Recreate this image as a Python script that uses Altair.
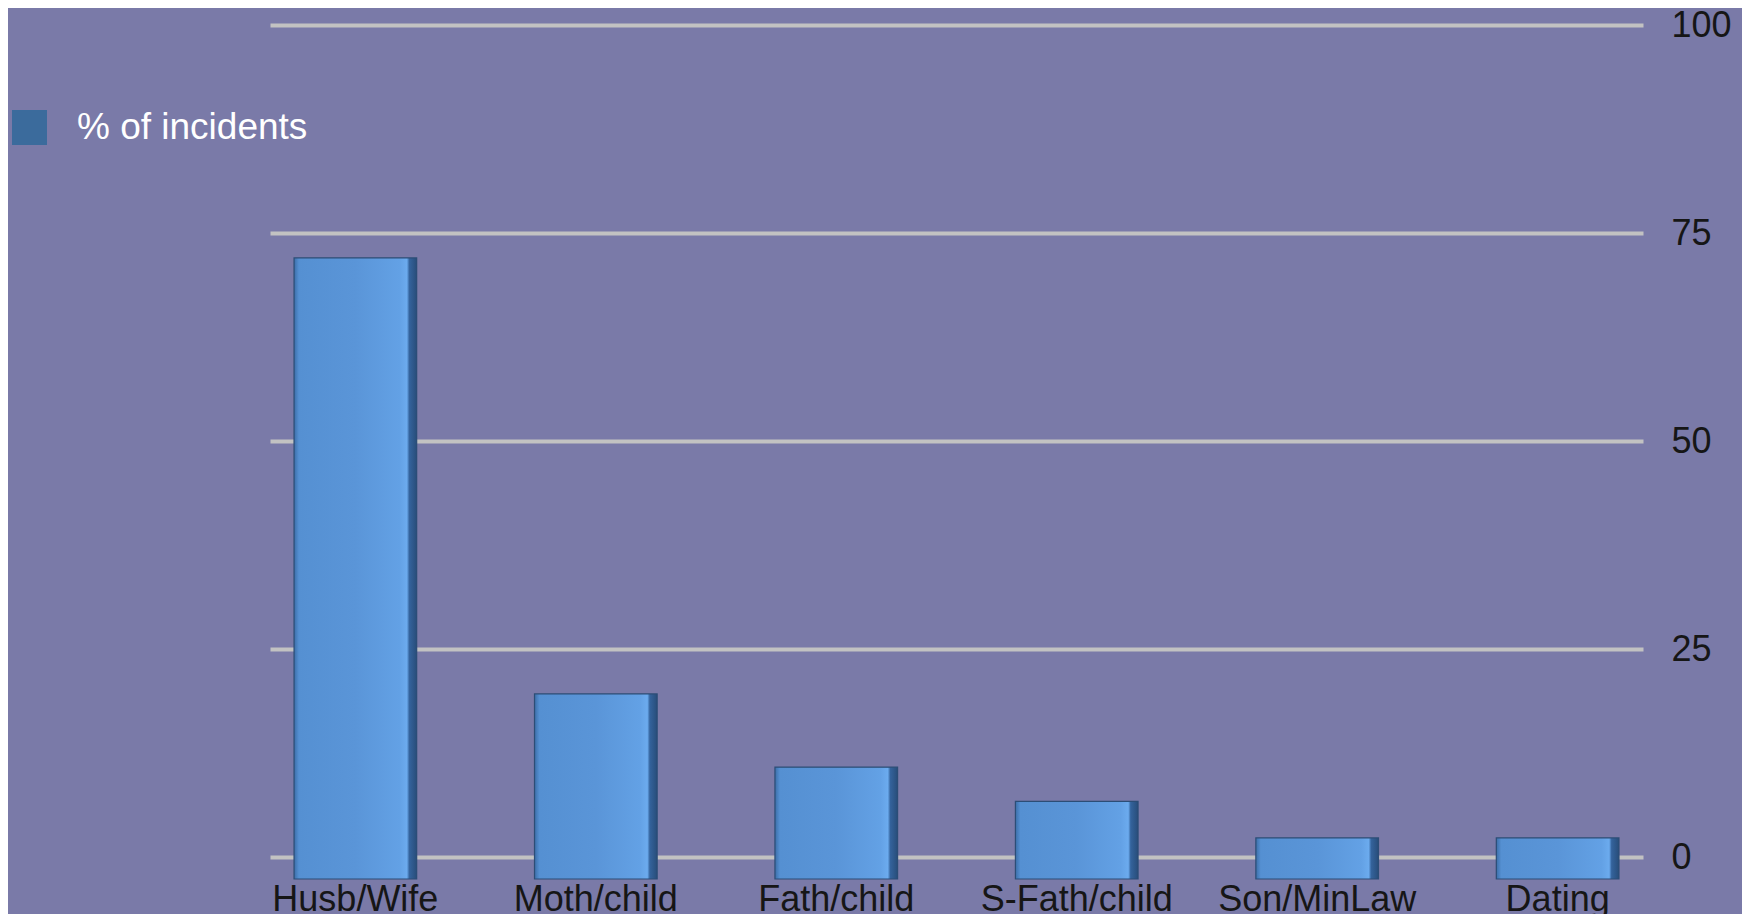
import altair as alt
import pandas as pd

categories = ["Husb/Wife", "Moth/child", "Fath/child", "S-Fath/child", "Son/MinLaw", "Dating"]
values = [72, 19.6, 10.8, 6.7, 2.3, 2.3]
series_name = "% of incidents"
y_ticks = [0, 25, 50, 75, 100]
y_floor = -2.64  # bars drawn slightly below the zero line (3D look)

df = pd.DataFrame({"cat": categories, "val": values, "series": [series_name] * len(categories)})

FONT = "Liberation Sans"
BG = "#7a7aa8"

x_enc = alt.X(
    "cat:N",
    sort=categories,
    scale=alt.Scale(paddingInner=0.49, paddingOuter=0.1),
    axis=alt.Axis(
        title=None, labelAngle=0, labelFontSize=36, labelColor="#161616", labelFont=FONT,
        domain=False, ticks=False, labelPadding=3, labelLimit=400,
    ),
)
y_enc = alt.Y(
    "val:Q",
    scale=alt.Scale(domain=[y_floor, 100], nice=False, zero=False),
    axis=alt.Axis(
        title=None, orient="right", values=y_ticks, grid=True, gridColor="#c2c2c2",
        gridWidth=4, domain=False, ticks=False, labelAlign="left", labelPadding=28,
        labelFontSize=36, labelColor="#161616", labelFont=FONT, labelBaseline="middle",
    ),
)

base = alt.Chart(df)

legend_bars = base.mark_bar().encode(
    x=x_enc,
    y=y_enc,
    y2=alt.datum(y_floor),
    color=alt.Color(
        "series:N",
        scale=alt.Scale(range=["#3b6b9c"]),
        legend=alt.Legend(
            title=None, orient="none", legendX=-259, legendY=84, symbolType="square",
            symbolSize=1225, symbolStrokeWidth=0, symbolOpacity=1, labelFontSize=37,
            labelColor="white", labelFont=FONT, labelOffset=29, padding=0, labelLimit=500,
        ),
    ),
)

grad = alt.Gradient(
    gradient="linear",
    stops=[
        alt.GradientStop(color="#3c6ea8", offset=0),
        alt.GradientStop(color="#5590d2", offset=0.04),
        alt.GradientStop(color="#5a95d8", offset=0.5),
        alt.GradientStop(color="#63a1e5", offset=0.86),
        alt.GradientStop(color="#6cabee", offset=0.92),
        alt.GradientStop(color="#34639c", offset=0.94),
        alt.GradientStop(color="#284d7a", offset=1),
    ],
    x1=0, x2=1, y1=0, y2=0,
)

face_bars = base.mark_bar(color=grad, stroke="#2c4d76", strokeWidth=1.2).encode(
    x=x_enc,
    y=y_enc,
    y2=alt.datum(y_floor),
)

chart = (
    alt.layer(legend_bars, face_bars)
    .properties(
        width=1373,
        height=854,
        autosize=alt.AutoSizeParams(type="none"),
        padding={"left": 262, "top": 17, "right": 99, "bottom": 35},
        background=BG,
    )
    .configure_view(stroke=None, fill=BG)
)

chart.save("out.html", embed_options={"renderer": "svg", "actions": False})
